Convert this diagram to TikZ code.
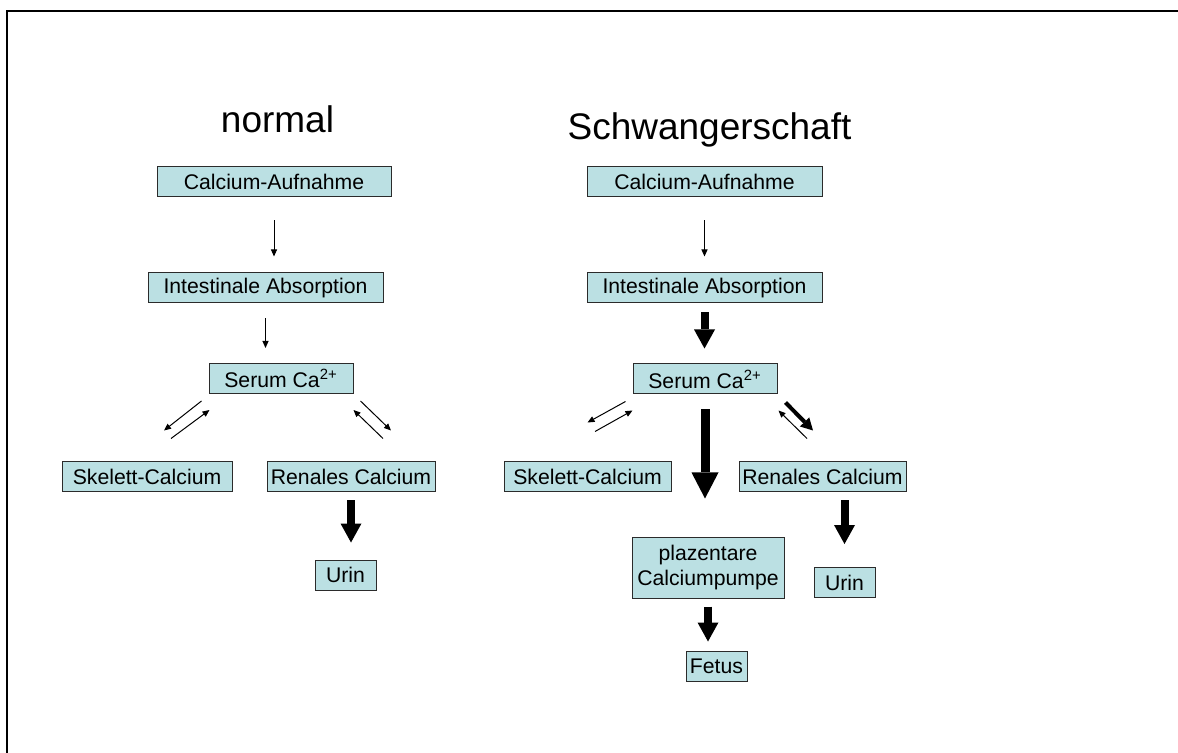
\documentclass[tikz,border=0pt]{standalone}
\usepackage{fontspec}
\setmainfont{Liberation Sans}
\usepackage{xcolor}
\usetikzlibrary{arrows.meta}
\definecolor{BoxFill}{HTML}{BBE0E3}
\definecolor{BoxEdge}{HTML}{2B2B2B}
\newcommand{\BoxText}{\fontsize{10.6}{12.5}\selectfont}
\newcommand{\TitleText}{\fontsize{18.5}{20}\selectfont}
\tikzset{
  flow box/.style={draw=BoxEdge,fill=BoxFill,line width=0.5pt,font=\BoxText,
    inner sep=1pt,minimum height=15pt,align=center},
  title text/.style={font=\TitleText,anchor=base,inner sep=0pt},
  thin flow/.style={draw=black,line width=0.5pt,-{Triangle[length=3.5pt,width=3pt]}},
  mid flow/.style={draw=black,line width=2pt,-{Triangle[length=6pt,width=6.5pt,line width=0pt]}},
  fat flow/.style={draw=black,line width=4pt,-{Triangle[length=9.5pt,width=10.5pt,line width=0pt]}},
  big flow/.style={draw=black,line width=4.5pt,-{Triangle[length=13pt,width=13.5pt,line width=0pt]}},
  frame line/.style={draw=black,line width=1pt}
}

\begin{document}
\begin{tikzpicture}[x=0.5pt,y=-0.5pt]
  % one unit = one pixel of the 1178 x 753 slide, y grows downwards
  \path[use as bounding box] (0,0) rectangle (1178,753);
  \draw[frame line] (7,753) -- (7,11) -- (1178,11);

  % left: normal
  \node[title text] (normTitle) at (277.5,133) {normal};
  \node[flow box,minimum width=117pt] (normAuf) at (274,182) {Calcium-Aufnahme};
  \node[flow box,minimum width=117.5pt] (normInt) at (265.5,288) {Intestinale Absorption};
  \node[flow box,minimum width=72pt] (normSer) at (281,378.5) {Serum Ca\textsuperscript{2+}};
  \node[flow box,minimum width=85pt] (normSke) at (147,477) {Skelett-Calcium};
  \node[flow box,minimum width=84pt] (normRen) at (351,477) {Renales Calcium};
  \node[flow box,minimum width=30.5pt] (normUrin) at (345.5,575) {Urin};

  \draw[thin flow,shorten <=11.5pt,shorten >=8pt] (normAuf.south) -- (normAuf.south |- normInt.north);
  \draw[thin flow,shorten <=7.5pt,shorten >=7.5pt] (normInt.south) -- (normInt.south |- normSer.north);
  \draw[thin flow] ([shift={(-7,7)}]normSer.south west) -- ([shift={(17,-31)}]normSke.north);
  \draw[thin flow] ([shift={(24,-23)}]normSke.north) -- ([shift={(1,16)}]normSer.south west);
  \draw[thin flow] ([shift={(7,7)}]normSer.south east) -- ([shift={(40,-31)}]normRen.north);
  \draw[thin flow] ([shift={(32,-23)}]normRen.north) -- ([shift={(0,16)}]normSer.south east);
  \draw[fat flow,shorten <=4pt,shorten >=8.5pt] (normRen.south) -- (normRen.south |- normUrin.north);

  % right: Schwangerschaft
  \node[title text] (pregTitle) at (709.5,140) {Schwangerschaft};
  \node[flow box,minimum width=117.5pt] (pregAuf) at (704.5,182) {Calcium-Aufnahme};
  \node[flow box,minimum width=117.5pt] (pregInt) at (704.5,288) {Intestinale Absorption};
  \node[flow box,minimum width=72pt] (pregSer) at (705,379) {Serum Ca\textsuperscript{2+}};
  \node[flow box,minimum width=83.5pt] (pregSke) at (587.5,477) {Skelett-Calcium};
  \node[flow box,minimum width=83.5pt] (pregRen) at (822.5,477) {Renales Calcium};
  \node[flow box,minimum width=76pt,minimum height=30.5pt] (pregPla) at (708,567.5) {plazentare\\Calciumpumpe};
  \node[flow box,minimum width=30.5pt] (pregUrin) at (844.5,582.5) {Urin};
  \node[flow box,minimum width=30.5pt] (pregFet) at (716.5,666) {Fetus};

  \draw[thin flow,shorten <=11.5pt,shorten >=8pt] (pregAuf.south) -- (pregAuf.south |- pregInt.north);
  \draw[fat flow,shorten <=4.5pt,shorten >=7.5pt] (pregInt.south) -- (pregInt.south |- pregSer.north);
  \draw[thin flow] ([shift={(-7,7)}]pregSer.south west) -- ([shift={(0,-39)}]pregSke.north);
  \draw[thin flow] ([shift={(7.5,-30)}]pregSke.north) -- ([shift={(0,16)}]pregSer.south west);
  \draw[big flow,shorten <=7.5pt,shorten >=19pt] (pregSer.south) -- (pregSer.south |- pregPla.north);
  \draw[mid flow] ([shift={(8,8)}]pregSer.south east) -- ([shift={(-9.5,-31)}]pregRen.north);
  \draw[thin flow] ([shift={(-15.5,-23)}]pregRen.north) -- ([shift={(1,16)}]pregSer.south east);
  \draw[fat flow,shorten <=4pt,shorten >=11.5pt] (pregUrin.north |- pregRen.south) -- (pregUrin.north);
  \draw[fat flow,shorten <=4pt,shorten >=4.5pt] (pregPla.south) -- (pregPla.south |- pregFet.north);
\end{tikzpicture}
\end{document}
